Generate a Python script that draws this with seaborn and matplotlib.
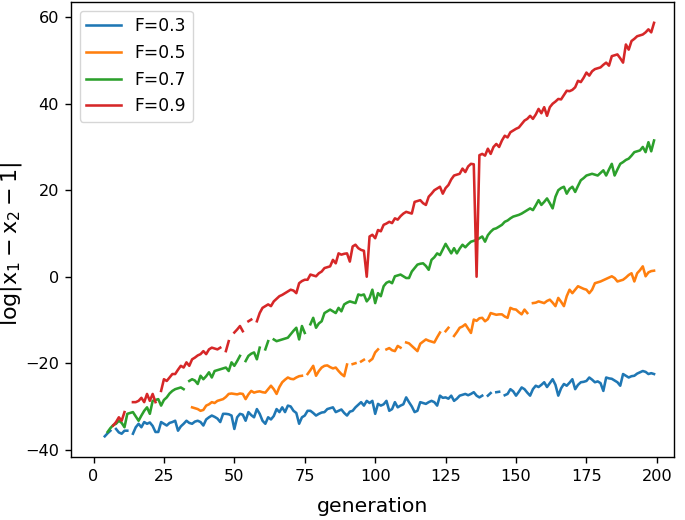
import numpy as np
import pandas as pd
import matplotlib
matplotlib.use("Agg")
import matplotlib.pyplot as plt
import seaborn as sns

nan = np.nan

# F values shown in the legend
f_labels = ["F=0.3", "F=0.5", "F=0.7", "F=0.9"]
# first generation of each series (values below run up to generation 199)
f_start = [4, 35, 5, 7]

# log|x1 - x2 - 1| per generation, nan = missing point (gap in the line)
vals_03 = [
    -36.9, -36.2, -35.6, nan, -35.2, -36.0,                                   # 4-9
    -36.3, -35.6, -35.6, nan, -36.3, -34.8, -34.0, -34.8, -33.6, -34.0,       # 10-19
    -33.7, -34.5, -35.9, -35.9, -33.6, -34.0, -34.4, -33.8, -33.6, -33.3,
    -35.6, -34.6, -34.0, -33.3, -33.8, -34.0, -33.5, -33.3, -33.6, -34.4,
    -33.0, -32.5, -32.1, -32.4, -32.8, -33.6, -31.7, -31.7, -31.8, -32.1,
    -35.2, -32.5, -31.7, -31.9, -33.3, -31.3, -32.0, -32.5, -30.6, -31.7,
    -33.3, -34.0, -32.5, -33.0, -32.2, -30.6, -31.3, -30.2, -31.3, -29.8,
    -30.0, -31.0, -31.5, -34.0, -32.5, -32.1, -31.0, -31.0, -31.5, -32.1,
    -31.7, -31.4, -31.3, -30.6, -30.4, -30.2, -31.3, -31.0, -30.7, -31.5,
    -32.1, -31.2, -31.0, -30.2, -29.6, -29.0, -29.8, -28.7, -29.2, -28.7,
    -31.7, -29.4, -29.8, -29.5, -28.7, -31.0, -30.6, -29.0, -30.2, -29.8,
    -29.5, -27.9, -29.0, -30.0, -31.3, -31.0, -29.0, -29.2, -29.4, -29.0,
    -28.7, -29.0, -29.8, -27.5, -28.0, -27.9, -28.2, -27.5, -28.7, -28.2,
    -27.5, -27.3, -27.1, -27.4, -27.1, -26.7, -27.5, -27.9, -27.5, nan,
    -27.5, -26.9, nan, -26.7, -26.6, nan, -27.4, -27.1, -26.0, -26.5,
    -27.5, -26.6, -25.6, -26.0, -26.8, -27.5, -26.0, -25.2, -25.5, -25.0,
    -24.4, -25.5, -24.6, -23.7, -25.0, -27.5, -25.8, -24.8, -25.2, -24.5,
    -23.7, -26.0, -25.0, -24.4, -24.3, -24.1, -23.3, -23.8, -24.4, -24.2,
    -24.6, -26.4, -23.3, -23.5, -23.6, -24.0, -24.4, -25.2, -22.5, -22.9,
    -23.3, -23.0, -22.9, -22.4, -22.1, -21.8, -22.0, -22.5, -22.3, -22.5,
]

vals_05 = [
    -30.2, -30.4, -30.6, -31.0, -30.8,                                         # 35-39
    -29.8, -29.5, -29.0, -29.2, -28.7, -28.5, -28.3, -27.8, -27.1, -27.0,     # 40-49
    -27.1, -27.2, -27.0, -27.1, -28.3, -27.2, -26.4, -26.8, -26.6, -26.5,
    -26.7, -26.8, -26.0, -25.2, -26.0, -27.1, -25.5, -24.4, -23.8, -23.3,
    -23.6, -23.7, -23.3, -23.0, -22.9, nan, -22.5, -21.6, -20.6, -22.9,
    -21.8, -21.0, -20.6, -20.5, -20.9, -21.2, -21.0, -21.8, -22.5, -23.0,
    -20.3, nan, -20.2, -20.0, nan, -19.6, -19.2, nan, -19.5, -19.0,
    -17.5, -16.8, nan, nan, -16.8, -16.5, -17.0, -17.2, -16.0, -16.4,
    nan, -15.2, -15.4, -16.0, -16.6, -17.2, -15.5, -15.0, -14.5, -14.8,
    -15.0, -15.2, -14.0, -12.9, nan, -12.6, -11.8, nan, -13.7, -12.8,
    -11.8, -11.5, -11.0, -12.0, -13.0, -9.9, -10.2, -9.6, -9.5, -10.3,
    -9.8, -8.4, -8.6, -8.8, -8.7, -8.7, -9.2, -9.5, -7.2, -7.5,
    -7.6, -8.2, -8.7, -7.6, -8.4, nan, -6.1, -6.0, -5.7, -5.9,
    -6.1, -5.6, -5.3, -6.0, -6.8, -4.9, -5.8, -6.8, -4.5, -3.0,
    -3.8, -3.0, -2.2, -2.5, -2.8, -3.0, -3.8, -3.0, -1.5, -1.3,
    -1.1, -0.8, -0.5, -0.2, 0.1, -0.3, -1.1, -0.9, -0.7, -0.2,
    0.4, 0.8, -1.1, 0.8, 1.5, 2.4, 0.1, 1.0, 1.3, 1.4,
]

vals_07 = [
    -35.9, -35.0, -34.3, -34.0, -33.3,                                         # 5-9
    -33.8, -34.8, -31.7, -31.5, -31.3, -32.3, -33.3, -32.1, -31.0, -30.2,     # 10-19
    -31.7, -28.7, -28.5, -28.3, -29.8, -28.5, -27.9, -27.0, -26.4, -26.0,
    -25.8, -25.6, -26.0, nan, -24.1, -23.7, -24.0, -24.8, -22.9, -23.7,
    -23.0, -22.1, -23.3, -21.8, -21.6, -21.4, -21.2, -21.0, -21.8, -19.8,
    -20.6, -19.5, -18.3, nan, -19.5, -18.3, -17.8, -17.5, -19.1, -16.4,
    nan, -16.8, -14.9, nan, -14.5, -14.9, -14.7, -14.5, -14.3, -14.1,
    -13.3, -12.5, -11.8, -14.5, -11.4, -13.0, nan, -11.0, -9.5, -11.8,
    -10.8, -10.3, -8.4, -8.0, -7.6, -8.0, -8.4, -7.2, -8.0, -6.4,
    -6.0, -5.7, -5.9, -6.1, -4.1, -4.3, -4.1, -5.7, -4.9, -3.0,
    -6.1, -3.8, -4.5, -2.2, -1.4, -1.1, -1.5, 0.1, 0.3, 0.5,
    0.1, -0.3, -0.3, 1.2, 2.0, 2.8, 3.0, 3.1, 2.5, 1.6,
    3.9, 4.5, 5.4, 5.0, 6.3, 7.6, 6.5, 5.4, 6.6, 5.4,
    6.5, 7.4, 6.8, 7.5, 8.1, 8.3, 8.5, 8.9, 9.3, 8.1,
    9.6, 10.4, 11.0, 11.2, 11.6, 12.0, 12.7, 13.0, 13.5, 13.9,
    14.1, 14.3, 14.6, 15.0, 15.4, 15.8, 15.4, 16.5, 17.7, 16.6,
    17.3, 18.1, 17.0, 15.8, 18.5, 20.0, 20.5, 20.8, 19.2, 20.3,
    20.8, 19.6, 21.0, 22.3, 22.8, 23.4, 23.6, 23.8, 23.6, 23.4,
    24.0, 24.6, 23.4, 24.8, 26.1, 23.4, 24.8, 26.1, 26.5, 27.0,
    27.3, 28.0, 28.8, 29.0, 29.2, 30.0, 28.8, 31.1, 29.0, 31.5,
]

vals_09 = [
    -34.4, -33.6, -32.5,                                                       # 7-9
    -33.3, -31.3, nan, nan, -29.0, -29.0, -28.7, -28.0, -29.0, -27.1,         # 10-19
    -28.7, -27.1, -29.0, nan, -26.4, -23.7, -24.1, -23.3, -22.5, -22.5,
    -21.5, -20.6, -21.0, -19.8, -20.6, -19.1, -18.7, -18.2, -17.9, -17.2,
    -17.9, -16.8, -16.4, -16.6, -16.8, -16.4, nan, -17.2, -14.9, nan,
    -12.9, -12.2, -11.4, -12.6, nan, -10.3, -9.9, nan, -10.3, -8.4,
    -7.2, -6.8, -6.4, -6.8, -5.7, -5.1, -4.5, -4.2, -3.8, -3.4,
    -3.0, -3.2, -3.8, -1.5, -1.0, -0.7, -0.7, 0.5, 0.3, 0.1,
    0.8, 1.2, 2.0, 2.2, 2.4, 3.9, 3.1, 5.4, 5.1, 5.3,
    5.4, 3.5, 7.0, 7.4, 6.6, 6.2, 6.0, 0.0, 9.3, 9.7,
    8.9, 10.8, 10.5, 12.0, 12.3, 12.7, 12.4, 13.5, 13.2, 14.0,
    14.6, 15.0, 14.8, 14.6, 17.3, 17.5, 17.7, 17.0, 16.6, 18.5,
    19.2, 20.0, 20.4, 20.8, 19.2, 20.5, 21.2, 22.5, 23.4, 23.6,
    23.8, 25.0, 24.2, 25.5, 26.1, 26.0, 0.0, 28.1, 28.4, 28.0,
    29.6, 28.4, 30.0, 30.7, 30.0, 31.5, 32.6, 32.2, 33.4, 33.8,
    34.2, 34.5, 35.3, 36.1, 36.5, 37.2, 36.5, 37.5, 38.8, 37.8,
    39.2, 37.2, 39.2, 40.0, 40.5, 41.1, 41.0, 42.0, 43.0, 42.9,
    43.2, 43.8, 45.3, 45.0, 46.0, 47.2, 46.5, 47.5, 48.0, 48.2,
    48.4, 49.0, 49.5, 48.8, 51.0, 51.2, 51.4, 50.5, 49.5, 53.7,
    52.5, 54.5, 55.0, 55.6, 55.8, 56.0, 56.5, 57.2, 56.5, 58.7,
]

# build a long table, one row per generation; split at the gaps
frames = []
for label, start, vals in zip(f_labels, f_start, [vals_03, vals_05, vals_07, vals_09]):
    gen = np.arange(start, start + len(vals))
    assert gen[-1] == 199, (label, gen[-1])
    d = pd.DataFrame({"generation": gen, "value": vals, "F": label})
    d["seg"] = label + "_" + d["value"].isna().cumsum().astype(str)
    frames.append(d.dropna())
df = pd.concat(frames, ignore_index=True)

plt.rcParams["axes.linewidth"] = 1.0
plt.rcParams["xtick.major.size"] = 4.3
plt.rcParams["ytick.major.size"] = 4.3
plt.rcParams["xtick.major.width"] = 1.0
plt.rcParams["ytick.major.width"] = 1.0
plt.rcParams["xtick.major.pad"] = 4.3
plt.rcParams["ytick.major.pad"] = 4.3

fig = plt.figure(figsize=(6.85, 5.2), dpi=100)
ax = fig.add_axes([0.1036, 0.121, 0.880, 0.875])

sns.lineplot(data=df, x="generation", y="value", hue="F", units="seg",
             estimator=None, palette="tab10", linewidth=1.85, ax=ax)

ax.set_xlim(-8, 206)
ax.set_ylim(-41.7, 63.5)
ax.set_xticks([0, 25, 50, 75, 100, 125, 150, 175, 200])
ax.set_yticks([-40, -20, 0, 20, 40, 60])
ax.tick_params(labelsize=11.6)
ax.set_xlabel("generation", fontsize=14.7, labelpad=9)
ax.set_ylabel(r"$\log|\mathrm{x}_1 - \mathrm{x}_2 - 1|$", fontsize=16)
ax.yaxis.set_label_coords(-0.078, 0.47)
ax.legend(loc="upper left", fontsize=12.3)

fig.savefig("out.png", dpi=100)
